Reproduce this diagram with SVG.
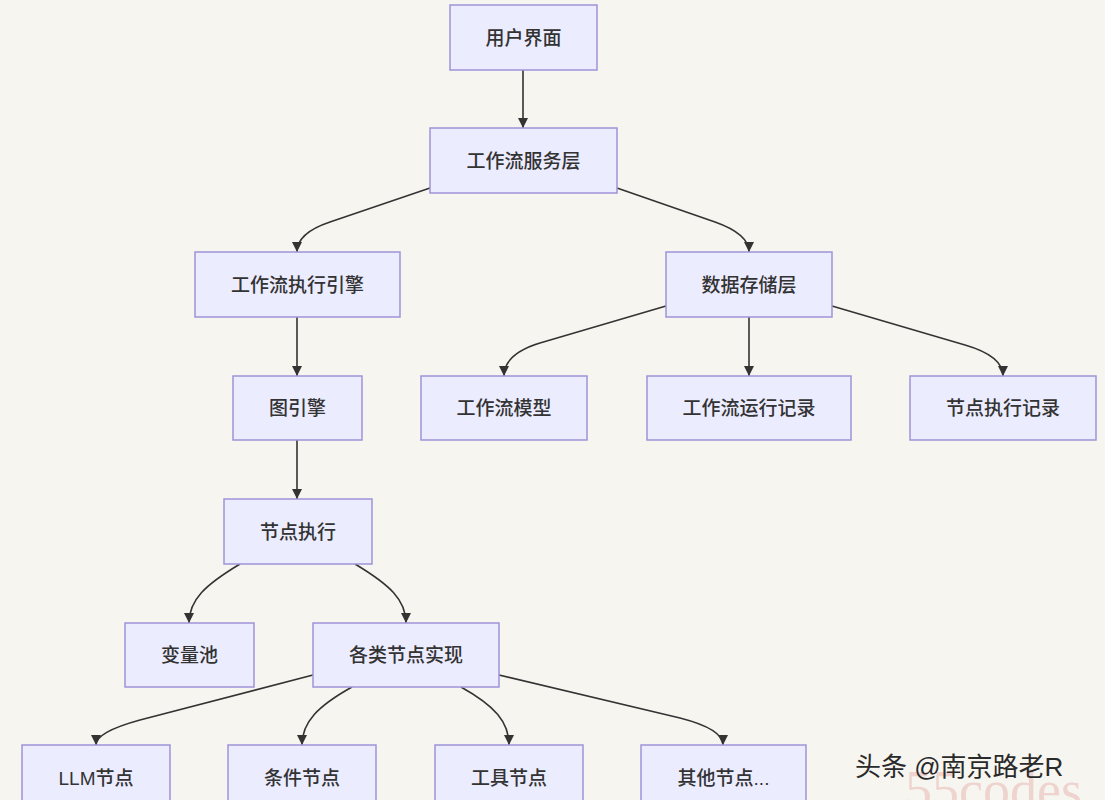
<svg xmlns="http://www.w3.org/2000/svg" width="1105" height="800" viewBox="0 0 1105 800">
<defs>
<marker id="arrow" viewBox="0 0 10 10" refX="10" refY="5" markerWidth="10" markerHeight="10" markerUnits="userSpaceOnUse" orient="auto">
<path d="M0,0 L10,5 L0,10 z" fill="#333"/>
</marker>
<style>
.node rect{fill:#ECECFF;stroke:#9f93d8;stroke-width:1.5}
.node text{font-family:"Liberation Sans","Noto Sans CJK SC",sans-serif;font-size:19px;font-weight:500;fill:#333;text-anchor:middle;dominant-baseline:central}
#edges path{fill:none;stroke:#333;stroke-width:1.6;marker-end:url(#arrow)}
</style>
</defs>
<rect width="1105" height="800" fill="#f6f5f0"/>
<g id="edges">
<path d="M523,70 L523,128"/>
<path d="M430,188 L330,222 Q297,233 297,252"/>
<path d="M617,188 L715,222 Q749,234 749,252"/>
<path d="M297,317 L297,376"/>
<path d="M666,306 L540,343 Q504,354 504,376"/>
<path d="M749,317 L749,376"/>
<path d="M832,306 L965,345 Q1003,356 1003,376"/>
<path d="M297,440 L297,499"/>
<path d="M240,564 C205,585 189,600 189,623"/>
<path d="M355,564 C390,585 406,600 406,623"/>
<path d="M313,675 L140,720 Q96,732 96,745"/>
<path d="M352,687 C318,706 302,722 302,745"/>
<path d="M461,687 C495,706 509,722 509,745"/>
<path d="M499,675 L680,718 Q723,729 723,745"/>
</g>
<g id="n-ui" class="node"><rect x="450" y="5" width="147" height="65"/><text x="523.5" y="38">用户界面</text></g>
<g id="n-service" class="node"><rect x="430" y="128" width="187" height="65"/><text x="523.5" y="161">工作流服务层</text></g>
<g id="n-engine" class="node"><rect x="195" y="252" width="205" height="65"/><text x="297.5" y="285">工作流执行引擎</text></g>
<g id="n-storage" class="node"><rect x="666" y="252" width="166" height="65"/><text x="749" y="285">数据存储层</text></g>
<g id="n-graph" class="node"><rect x="233" y="376" width="129" height="64"/><text x="297.5" y="408">图引擎</text></g>
<g id="n-model" class="node"><rect x="421" y="376" width="166" height="64"/><text x="504" y="408">工作流模型</text></g>
<g id="n-runlog" class="node"><rect x="647" y="376" width="204" height="64"/><text x="749" y="408">工作流运行记录</text></g>
<g id="n-nodelog" class="node"><rect x="910" y="376" width="186" height="64"/><text x="1003" y="408">节点执行记录</text></g>
<g id="n-exec" class="node"><rect x="224" y="499" width="148" height="65"/><text x="298" y="532">节点执行</text></g>
<g id="n-varpool" class="node"><rect x="125" y="623" width="129" height="64"/><text x="189.5" y="655">变量池</text></g>
<g id="n-impl" class="node"><rect x="313" y="623" width="186" height="64"/><text x="406" y="655">各类节点实现</text></g>
<g id="n-llm" class="node"><rect x="22" y="745" width="148" height="64"/><text x="96" y="778">LLM节点</text></g>
<g id="n-cond" class="node"><rect x="228" y="745" width="148" height="64"/><text x="302" y="778">条件节点</text></g>
<g id="n-tool" class="node"><rect x="435" y="745" width="148" height="64"/><text x="509" y="778">工具节点</text></g>
<g id="n-other" class="node"><rect x="641" y="745" width="165" height="64"/><text x="723.5" y="778">其他节点...</text></g>
<text x="905" y="808" font-family="'Liberation Serif',serif" font-size="54" fill="#e9b9b5" opacity="0.55">55codes</text>
<text x="855" y="776" font-family="'Liberation Sans','Noto Sans CJK SC',sans-serif" font-size="26" fill="#2a2a2a">头条 @南京路老R</text>
</svg>
